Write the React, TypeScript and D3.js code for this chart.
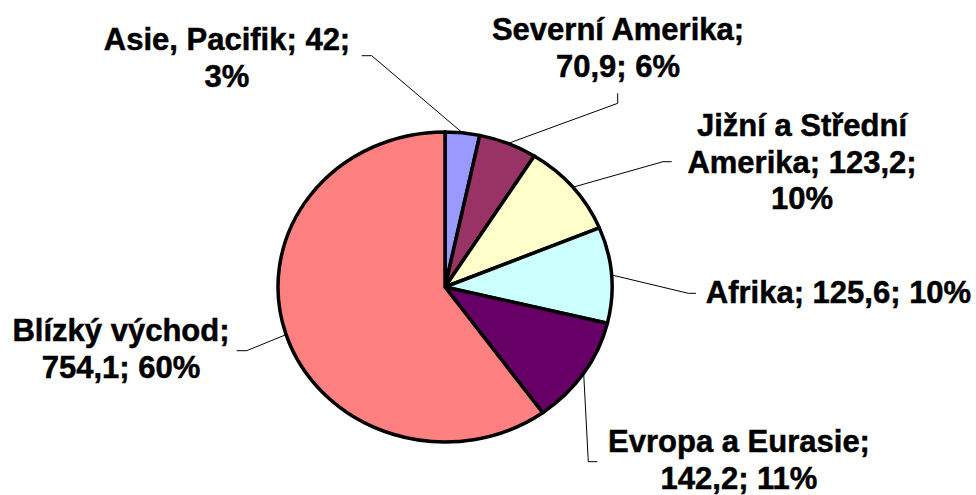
import React, { useEffect, useRef } from "react";
import * as d3 from "d3";

// data (mil. t)
const regions = [
  "Asie, Pacifik",
  "Severní Amerika",
  "Jižní a Střední Amerika",
  "Afrika",
  "Evropa a Eurasie",
  "Blízký východ",
];
const values = [42, 70.9, 123.2, 125.6, 142.2, 754.1];
const percents = [3, 6, 10, 10, 11, 60];
const labelLines = [
  ["Asie, Pacifik; 42;", "3%"],
  ["Severní Amerika;", "70,9; 6%"],
  ["Jižní a Střední", "Amerika; 123,2;", "10%"],
  ["Afrika; 125,6; 10%"],
  ["Evropa a Eurasie;", "142,2; 11%"],
  ["Blízký východ;", "754,1; 60%"],
];
const colors = ["#9999FF", "#993366", "#FFFFCC", "#CCFFFF", "#660066", "#FF8080"];

// label placement (layout only)
const labelLayout = [
  { cx: 227, base: 50, elbow: [371.7, 55.7], end: [361.7, 55.7] },
  { cx: 618, base: 40, elbow: [617.7, 103.3], end: [617.7, 93.3] },
  { cx: 802, base: 136, elbow: [663, 161.7], end: [671.7, 161.7] },
  { cx: 838.5, base: 303, elbow: [688.3, 293.3], end: [696, 293.3] },
  { cx: 739, base: 452, elbow: [588.3, 461.7], end: [597.3, 461.7] },
  { cx: 121, base: 341, elbow: [246.7, 350.7], end: [236.7, 350.7] },
];

const W = 976;
const H = 495;
const cx = 445;
const cy = 287;
const ry = 155;
const rx = 167;
const lineGap = 36.5;

const App = () => {
  const svgRef = useRef<SVGSVGElement>(null);

  useEffect(() => {
    const svg = d3.select(svgRef.current);
    svg.selectAll("*").remove();

    const data = regions.map((name, i) => ({ name, value: values[i], pct: percents[i], i }));

    const pie = d3.pie<any>()
      .sort(null)
      .value(d => d.value)
      .startAngle(0)
      .endAngle(2 * Math.PI);

    const arcs = pie(data);

    const arc = d3.arc<any>()
      .innerRadius(0)
      .outerRadius(ry);

    // pie is slightly wider than tall in the original
    const g = svg.append("g")
      .attr("transform", `translate(${cx},${cy}) scale(${rx / ry},1)`);

    g.selectAll("path")
      .data(arcs)
      .enter().append("path")
      .attr("d", arc)
      .attr("fill", d => colors[d.index])
      .attr("stroke", "#000")
      .attr("stroke-width", 3.5)
      .attr("stroke-linejoin", "round")
      .attr("vector-effect", "non-scaling-stroke");

    // leader lines from the middle of each slice edge
    const leaders = svg.append("g");
    arcs.forEach((a, i) => {
      const mid = (a.startAngle + a.endAngle) / 2;
      const sx = cx + rx * Math.sin(mid);
      const sy = cy - ry * Math.cos(mid);
      const lay = labelLayout[i];
      leaders.append("polyline")
        .attr("points", `${sx},${sy} ${lay.elbow[0]},${lay.elbow[1]} ${lay.end[0]},${lay.end[1]}`)
        .attr("fill", "none")
        .attr("stroke", "#000")
        .attr("stroke-width", 1);
    });

    // labels
    const labels = svg.append("g")
      .attr("font-family", "'Liberation Sans', Arial, sans-serif")
      .attr("font-weight", "bold")
      .attr("font-size", "31px")
      .attr("fill", "#000")
      .attr("stroke", "#000")
      .attr("stroke-width", 0.5)
      .attr("text-anchor", "middle");

    labelLines.forEach((lines, i) => {
      const lay = labelLayout[i];
      lines.forEach((t, j) => {
        labels.append("text")
          .attr("x", lay.cx)
          .attr("y", lay.base + j * lineGap)
          .text(t);
      });
    });
  }, []);

  return (
    <div style={{ position: "absolute", left: 0, top: 0, width: W, height: H, background: "#fff" }}>
      <svg ref={svgRef} width={W} height={H} style={{ display: "block" }}></svg>
    </div>
  );
};

export default App;
